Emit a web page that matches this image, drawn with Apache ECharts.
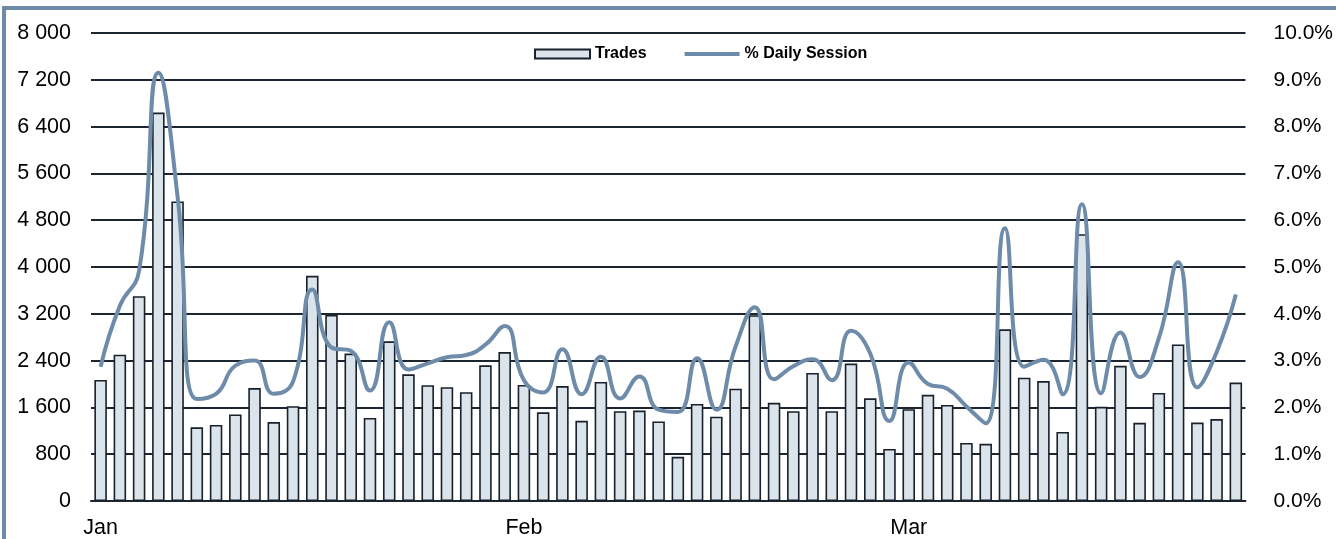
<!DOCTYPE html>
<html>
<head>
<meta charset="utf-8">
<script src="https://cdn.jsdelivr.net/npm/echarts@6/dist/echarts.min.js"></script>
<style>
html,body{margin:0;padding:0;background:#fff;}
#c{width:1336px;height:539px;}
</style>
</head>
<body>
<div id="c"></div>
<script>
const monthLabels = ['Jan', 'Feb', 'Mar'];
const monthStartIdx = [0, 22, 42];
const dayCount = 60;

const trades = [
  2070, 2500, 3500, 6640, 5120, 1260, 1300, 1480, 1930, 1350,
  1620, 3850, 3180, 2520, 1420, 2730, 2165, 1980, 1945, 1860,
  2320, 2545, 1985, 1515, 1965, 1370, 2035, 1535, 1545, 1360,
  755, 1660, 1440, 1920, 3175, 1678, 1535, 2188, 1535, 2350,
  1755, 890, 1570, 1815, 1642, 993, 978, 2935, 2108, 2050,
  1180, 4560, 1610, 2310, 1336, 1846, 2675, 1340, 1400, 2025
];

const dailySessionPct = [
  2.87, 4.17, 4.92, 9.15, 6.5, 2.18, 2.29, 2.89, 3.0, 2.29,
  2.55, 4.52, 3.28, 3.21, 2.36, 3.82, 2.81, 2.94, 3.07, 3.12,
  3.34, 3.74, 2.58, 2.32, 3.24, 2.28, 3.08, 2.19, 2.66, 1.95,
  1.9, 3.05, 1.95, 3.3, 4.14, 2.6, 2.88, 3.03, 2.58, 3.64,
  3.15, 1.71, 2.96, 2.5, 2.4, 2.02, 1.66, 5.83, 2.87, 3.02,
  2.28, 6.34, 2.3, 3.6, 2.65, 3.48, 5.1, 2.43, 3.18, 4.41
];

const leftTicks = { min: 0, max: 8000, interval: 800 };
const rightTicks = { min: 0, max: 10, interval: 1 };

const categories = [];
for (let i = 0; i < dayCount; i++) {
  const k = monthStartIdx.indexOf(i);
  categories.push(k >= 0 ? monthLabels[k] : '');
}

const FONT = '"Liberation Sans", Arial, sans-serif';
const GRID_COLOR = '#1c2530';
const LINE_COLOR = '#6e8caa';

function fmtThousands(v) {
  return String(v).replace(/\B(?=(\d{3})+(?!\d))/g, ' ');
}

const chart = echarts.init(document.getElementById('c'), null, { renderer: 'canvas' });
chart.setOption({
  animation: false,
  backgroundColor: '#ffffff',
  textStyle: { fontFamily: FONT },
  graphic: [{
    type: 'rect',
    shape: { x: 4, y: 8, width: 1400, height: 600 },
    style: { fill: 'none', stroke: LINE_COLOR, lineWidth: 4 },
    silent: true, z: 100
  }],
  legend: {
    left: 529,
    top: 41,
    itemWidth: 55,
    itemHeight: 9,
    itemGap: 38,
    textStyle: { fontFamily: FONT, fontSize: 16, fontWeight: 'bold', color: '#000' },
    data: [
      { name: 'Trades', icon: 'rect' },
      { name: '% Daily Session', icon: 'path://M0,0H56V4H0Z', itemStyle: { color: LINE_COLOR, borderWidth: 0 } }
    ]
  },
  grid: { left: 91, right: 90, top: 33, bottom: 36, containLabel: false },
  xAxis: {
    type: 'category',
    data: categories,
    boundaryGap: true,
    axisTick: { show: false },
    axisLine: { show: true, lineStyle: { color: GRID_COLOR, width: 2 } },
    axisLabel: {
      interval: 0,
      margin: 16,
      fontFamily: FONT,
      fontSize: 21.5,
      color: '#000'
    }
  },
  yAxis: [{
    type: 'value',
    min: leftTicks.min,
    max: leftTicks.max,
    interval: leftTicks.interval,
    axisLine: { show: false },
    axisTick: { show: false },
    splitLine: { show: true, lineStyle: { color: GRID_COLOR, width: 2 } },
    axisLabel: {
      margin: 20,
      fontFamily: FONT,
      fontSize: 21.5,
      color: '#000',
      formatter: fmtThousands
    }
  }, {
    type: 'value',
    min: rightTicks.min,
    max: rightTicks.max,
    interval: rightTicks.interval,
    axisLine: { show: false },
    axisTick: { show: false },
    splitLine: { show: false },
    axisLabel: {
      margin: 28,
      fontFamily: FONT,
      fontSize: 21,
      color: '#000',
      formatter: v => v.toFixed(1) + '%'
    }
  }],
  series: [{
    name: 'Trades',
    type: 'bar',
    yAxisIndex: 0,
    data: trades,
    barCategoryGap: '35%',
    itemStyle: { color: '#dce4eb', borderColor: '#17202b', borderWidth: 1.6 },
    z: 2
  }, {
    name: '% Daily Session',
    type: 'line',
    yAxisIndex: 1,
    data: dailySessionPct,
    smooth: 0.5,
    symbol: 'none',
    showSymbol: false,
    lineStyle: { color: LINE_COLOR, width: 4 },
    itemStyle: { color: LINE_COLOR },
    z: 3
  }]
});
</script>
</body>
</html>
